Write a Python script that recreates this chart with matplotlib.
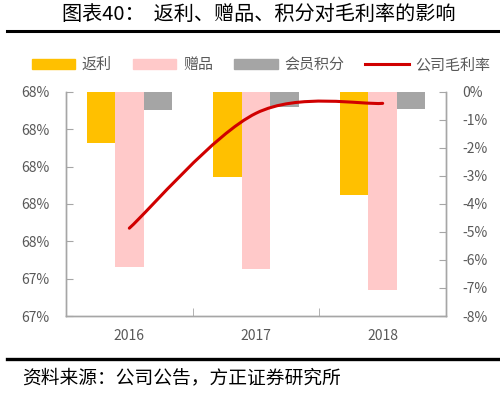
import numpy as np
import matplotlib
matplotlib.use("Agg")
import matplotlib.pyplot as plt
from matplotlib.path import Path
from matplotlib.patches import PathPatch, Patch
from matplotlib.lines import Line2D

plt.rcParams["font.family"] = ["Noto Sans CJK SC", "DejaVu Sans"]

years = ["2016", "2017", "2018"]
rebate = [-1.82, -3.03, -3.68]      # 返利, %
gift = [-6.24, -6.31, -7.07]        # 赠品, %
points = [-0.65, -0.53, -0.63]      # 会员积分, %
margin = [67.67, 68.285, 68.338]    # 公司毛利率, %

C_REBATE = "#FFC000"
C_GIFT = "#FFC9C9"
C_POINTS = "#A5A5A5"
C_LINE = "#D00000"
C_TEXT = "#595959"
C_AXIS = "#A6A6A6"

fig = plt.figure(figsize=(5.0, 3.99), dpi=100)
ax = fig.add_axes([0.132, 0.208, 0.76, 0.562])
ax2 = ax.twinx()

x = np.arange(len(years))
w = 0.225
ax.bar(x - w, rebate, w, color=C_REBATE, zorder=2)
ax.bar(x, gift, w, color=C_GIFT, zorder=2)
ax.bar(x + w, points, w, color=C_POINTS, zorder=2)

# bars use the right-hand scale, the line uses the left-hand one
ax.yaxis.tick_right()
ax2.yaxis.tick_left()

ax.set_xlim(-0.5, len(years) - 0.5)
ax.set_ylim(-8, 0)
ax.set_yticks(np.arange(-8, 1, 1))
ax.set_yticklabels([f"{v}%" for v in range(-8, 1)])
ax.set_xticks(x)
ax.set_xticklabels(years)
ax.set_xticks(x[:-1] + 0.5, minor=True)
ax.tick_params(axis="x", which="major", length=0, pad=9, labelsize=10, colors=C_TEXT)
ax.tick_params(axis="x", which="minor", direction="in", length=6, color=C_AXIS)
ax.tick_params(axis="y", direction="in", length=5, color=C_AXIS,
               labelsize=10, labelcolor=C_TEXT, pad=12)

ax2.set_ylim(67.2, 68.4)
lt = np.arange(67.2, 68.41, 0.2)
ax2.set_yticks(lt)
ax2.set_yticklabels([f"{v:.0f}%" for v in lt])
ax2.tick_params(axis="y", direction="in", length=5, color=C_AXIS,
                labelsize=10, labelcolor=C_TEXT, pad=12)

# smoothed line (Excel-style bezier through the data points)
pts = np.column_stack([x, margin]).astype(float)
verts = [pts[0]]
codes = [Path.MOVETO]
n = len(pts)
for i in range(n - 1):
    p_prev = pts[i - 1] if i > 0 else pts[i]
    p_next = pts[i + 2] if i + 2 < n else pts[i + 1]
    c1 = pts[i] + (pts[i + 1] - p_prev) / 6
    c2 = pts[i + 1] - (p_next - pts[i]) / 6
    verts += [c1, c2, pts[i + 1]]
    codes += [Path.CURVE4] * 3
ax2.add_patch(PathPatch(Path(verts, codes), facecolor="none",
                        edgecolor=C_LINE, lw=2.2, capstyle="round", zorder=3))

for a in (ax, ax2):
    a.spines["top"].set_visible(False)
    for s in ("left", "right", "bottom"):
        a.spines[s].set_color(C_AXIS)
        a.spines[s].set_linewidth(1.0)

handles = [Patch(color=C_REBATE), Patch(color=C_GIFT), Patch(color=C_POINTS),
           Line2D([], [], color=C_LINE, lw=2.2)]
labels = ["返利", "赠品", "会员积分", "公司毛利率"]
leg = fig.legend(handles, labels, loc="center", bbox_to_anchor=(0.522, 0.837), ncol=4,
                 frameon=False, fontsize=10.8, handlelength=2.9, handleheight=0.6,
                 handletextpad=0.45, columnspacing=1.4)
for t in leg.get_texts():
    t.set_color(C_TEXT)

fig.text(0.517, 0.963, "图表40：  返利、赠品、积分对毛利率的影响", ha="center", va="center",
         fontsize=14.5, color="black")
fig.add_artist(Line2D([0.014, 1.0], [0.922, 0.922], color="black", lw=2.2))
fig.add_artist(Line2D([0.014, 1.0], [0.1, 0.1], color="black", lw=2.4))
fig.text(0.044, 0.052, "资料来源：公司公告，方正证券研究所", ha="left", va="center",
         fontsize=13.5, color="black", style="italic")

fig.savefig("out.png", dpi=100)
